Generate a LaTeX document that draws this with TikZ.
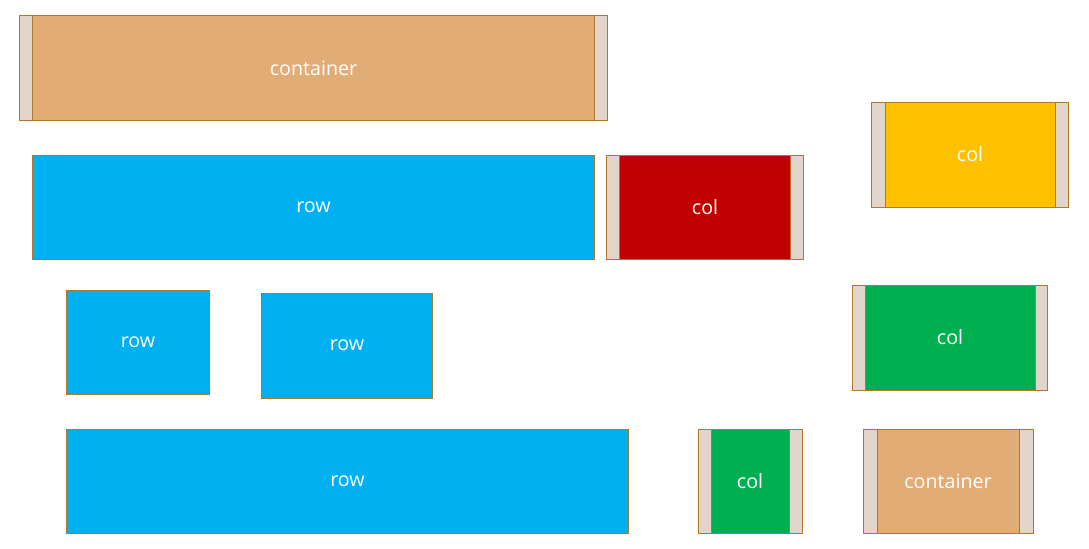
\documentclass[tikz,border=0pt]{standalone}
\usepackage{fontspec}
\setmainfont{Open Sans}
\usepackage{xcolor}
\usepackage{tikz}
\usetikzlibrary{positioning}

\definecolor{edgec}{HTML}{B07828}
\definecolor{padc}{HTML}{E2D6CC}
\definecolor{contc}{HTML}{E2AC76}
\definecolor{rowc}{HTML}{00B0F0}
\definecolor{redc}{HTML}{C00000}
\definecolor{yelc}{HTML}{FFC000}
\definecolor{grnc}{HTML}{00B050}

\tikzset{
  block/.style={draw=edgec,line width=0.7pt,inner sep=0pt,text=white,
    font=\fontsize{14}{16}\selectfont,minimum height=2.6cm},
  padded/.style={block,fill=padc},
  rowbox/.style={block,fill=rowc},
}

\begin{document}
\begin{tikzpicture}[x=0.025cm,y=-0.025cm]
\useasboundingbox (0,0) rectangle (1089,548);
% containers and cols: outer node carries the padding
\node[padded,minimum width=14.675cm] (cont1) at (313.5,68) {};
\node[block,fill=contc,minimum width=14.05cm] (cont1in) at (cont1) {container};

\node[rowbox,minimum width=14.025cm] (row1) at (313.5,207) {row};

\node[padded,minimum width=4.9cm] (col1) at (705,207) {};
\node[block,fill=redc,minimum width=4.25cm] (col1in) at (col1) {col};

\node[padded,minimum width=4.9cm,minimum height=2.625cm] (col2) at (970,154.5) {};
\node[block,fill=yelc,minimum width=4.25cm,minimum height=2.625cm] (col2in) at (col2) {col};

\node[rowbox,minimum width=3.55cm] (row2) at (138,342) {row};
\node[rowbox,minimum width=4.25cm,minimum height=2.625cm] (row3) at (347,345.5) {row};

\node[padded,minimum width=4.85cm,minimum height=2.625cm] (col3) at (950,337.5) {};
\node[block,fill=grnc,minimum width=4.25cm,minimum height=2.625cm] (col3in) at (col3) {col};

\node[rowbox,minimum width=14.025cm] (row4) at (347.5,481) {row};

\node[padded,minimum width=2.6cm] (col4) at (750,481) {};
\node[block,fill=grnc,minimum width=1.95cm] (col4in) at (col4) {col};

\node[padded,minimum width=4.25cm] (cont2) at (948,481) {};
\node[block,fill=contc,minimum width=3.55cm] (cont2in) at (cont2) {container};
\end{tikzpicture}
\end{document}
